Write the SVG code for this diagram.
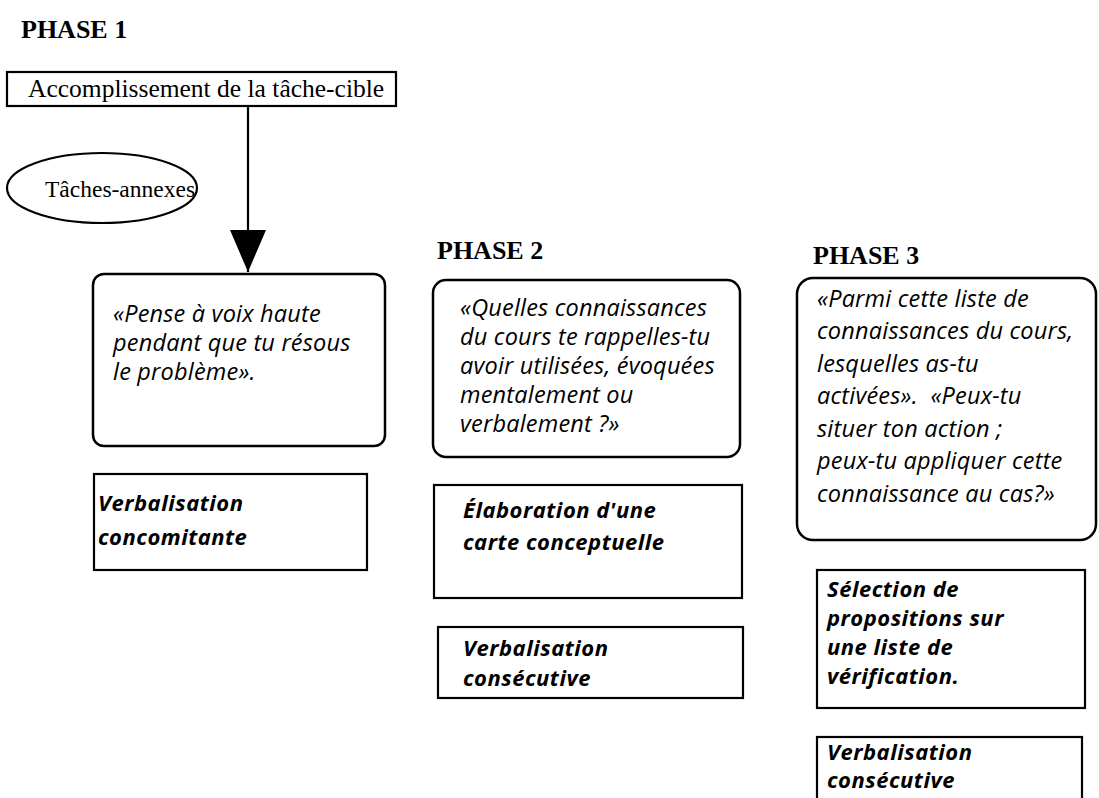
<svg xmlns="http://www.w3.org/2000/svg" width="1099" height="798" viewBox="0 0 1099 798">
  <style>
    .phase { font-family: "Liberation Serif", "Times New Roman", serif; font-weight: bold; font-size: 26px; fill: #000; }
    .serif { font-family: "Liberation Serif", "Times New Roman", serif; font-size: 25.5px; fill: #000; }
    .oval-label { font-size: 23.5px; }
    .q { font-family: "Open Sans", "Noto Sans", sans-serif; font-style: italic; font-size: 23.5px; letter-spacing: 0.2px; fill: #000; }
    .b { font-family: "Open Sans", "Noto Sans", sans-serif; font-style: italic; font-weight: bold; font-size: 22px; letter-spacing: 0.5px; fill: #000; }
    .box { fill: #fff; stroke: #000; stroke-width: 2.2; }
    .rbox { fill: #fff; stroke: #000; stroke-width: 2.5; }
    .link { stroke: #000; stroke-width: 2.2; fill: none; }
  </style>
  <defs>
    <!-- filled triangular head, drawn pointing along +x so orient="auto" follows the line -->
    <marker id="arrow" markerUnits="userSpaceOnUse" viewBox="0 0 42 36" refX="42" refY="18" markerWidth="42" markerHeight="36" orient="auto">
      <path d="M0,0 L42,18 L0,36 Z" fill="#000"/>
    </marker>
  </defs>

  <rect width="1099" height="798" fill="#fff"/>

  <!-- phase headings -->
  <text class="phase" x="21" y="38">PHASE 1</text>
  <text class="phase" x="437" y="259">PHASE 2</text>
  <text class="phase" x="813" y="264">PHASE 3</text>

  <!-- connectors -->
  <g id="connectors">
    <line class="link" x1="248" y1="106" x2="248" y2="272" marker-end="url(#arrow)"/>
  </g>

  <!-- phase 1 -->
  <g id="task-target">
    <rect class="box" x="7" y="72" width="389" height="34"/>
    <text class="serif" x="28" y="97">Accomplissement de la tâche-cible</text>
  </g>
  <g id="side-tasks">
    <ellipse class="box" cx="102" cy="188" rx="95" ry="35"/>
    <text class="serif oval-label" x="45" y="197">Tâches-annexes</text>
  </g>
  <g id="prompt-1">
    <rect class="rbox" x="93" y="274" width="292" height="172" rx="11"/>
    <text class="q" x="113" y="322">«Pense à voix haute</text>
    <text class="q" x="113" y="351">pendant que tu résous</text>
    <text class="q" x="113" y="380">le problème».</text>
  </g>
  <g id="method-1">
    <rect class="box" x="94" y="474" width="273" height="96"/>
    <text class="b" x="98" y="511">Verbalisation</text>
    <text class="b" x="98" y="545">concomitante</text>
  </g>

  <!-- phase 2 -->
  <g id="prompt-2">
    <rect class="rbox" x="433" y="280" width="307" height="177" rx="13"/>
    <text class="q" x="460" y="316">«Quelles connaissances</text>
    <text class="q" x="460" y="345">du cours te rappelles-tu</text>
    <text class="q" x="460" y="374">avoir utilisées, évoquées</text>
    <text class="q" x="460" y="403">mentalement ou</text>
    <text class="q" x="460" y="432">verbalement ?»</text>
  </g>
  <g id="method-2a">
    <rect class="box" x="434" y="485" width="308" height="113"/>
    <text class="b" x="463" y="518">Élaboration d'une</text>
    <text class="b" x="463" y="550">carte conceptuelle</text>
  </g>
  <g id="method-2b">
    <rect class="box" x="438" y="627" width="305" height="71"/>
    <text class="b" x="463" y="656">Verbalisation</text>
    <text class="b" x="463" y="686">consécutive</text>
  </g>

  <!-- phase 3 -->
  <g id="prompt-3">
    <rect class="rbox" x="797" y="278" width="299" height="262" rx="16"/>
    <text class="q" x="817" y="307">«Parmi cette liste de</text>
    <text class="q" x="817" y="339">connaissances du cours,</text>
    <text class="q" x="817" y="372">lesquelles as-tu</text>
    <text class="q" x="817" y="404" xml:space="preserve">activées».  «Peux-tu</text>
    <text class="q" x="817" y="437">situer ton action ;</text>
    <text class="q" x="817" y="469">peux-tu appliquer cette</text>
    <text class="q" x="817" y="502">connaissance au cas?»</text>
  </g>
  <g id="method-3a">
    <rect class="box" x="817" y="570" width="268" height="138"/>
    <text class="b" x="827" y="597">Sélection de</text>
    <text class="b" x="827" y="626">propositions sur</text>
    <text class="b" x="827" y="655">une liste de</text>
    <text class="b" x="827" y="684">vérification.</text>
  </g>
  <g id="method-3b">
    <rect class="box" x="817" y="737" width="265" height="70"/>
    <text class="b" x="827" y="760">Verbalisation</text>
    <text class="b" x="827" y="788">consécutive</text>
  </g>
</svg>
